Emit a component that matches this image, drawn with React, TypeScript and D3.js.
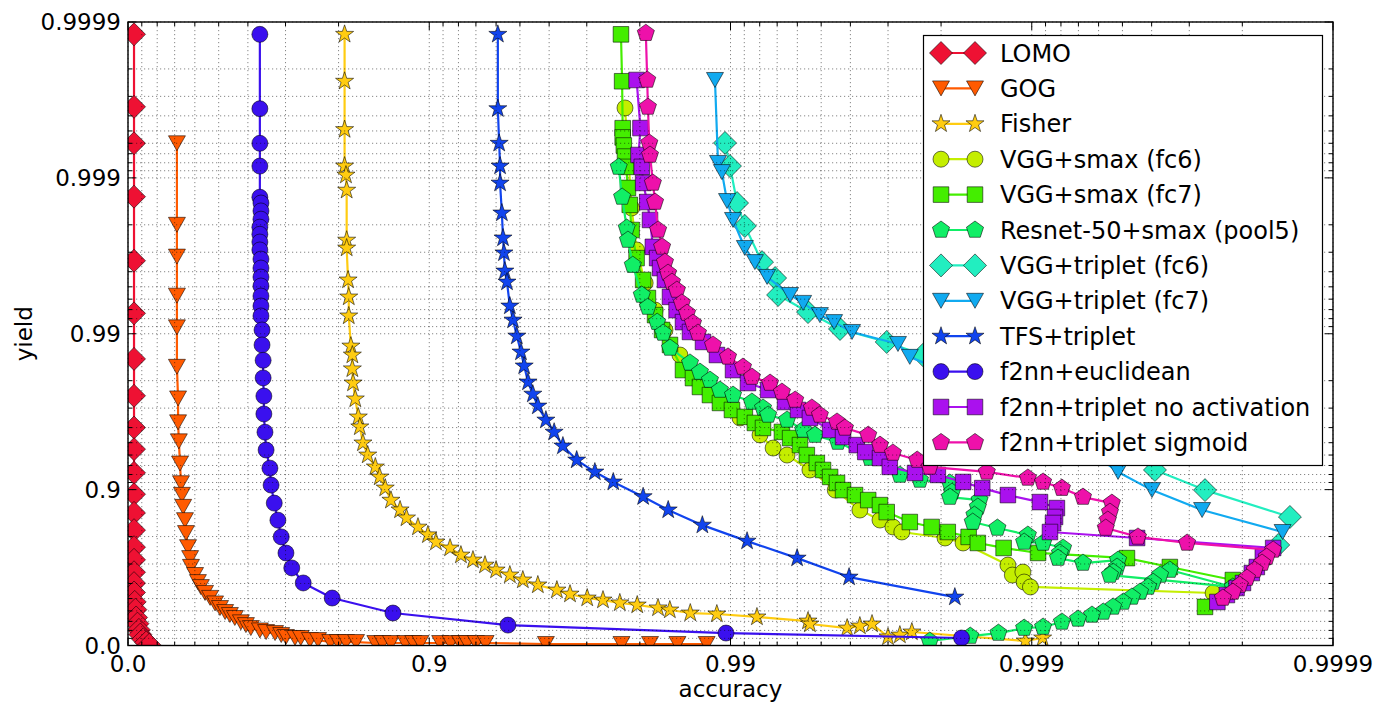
import React from "react";
import * as d3 from "d3";

// ---------- axis ticks ----------
const majorTickValues = [0.0, 0.9, 0.99, 0.999, 0.9999];
const majorTickLabels = ["0.0", "0.9", "0.99", "0.999", "0.9999"];
const decades = [0, 1, 2, 3];
const minorSteps = [1, 2, 3, 4, 5, 6, 7, 8];

// ---------- data (accuracy, yield) ----------
const seriesNames = [
  "LOMO", "GOG", "Fisher", "VGG+smax (fc6)", "VGG+smax (fc7)", "Resnet-50+smax (pool5)",
  "VGG+triplet (fc6)", "VGG+triplet (fc7)", "TFS+triplet", "f2nn+euclidean",
  "f2nn+triplet no activation", "f2nn+triplet sigmoid",
];

const lomoAccuracy = [.045, .045, .045, .045, .045, .045, .045, .045, .045, .045, .045, .045, .045, .045, .045, .045, .045, .045, .045, .05, .055, .06, .07, .08, .09, .11, .13, .15];
const lomoYield = [.99988, .99965, .9994, .99868, .9966, .9926, .9855, .975, .960, .945, .922, .893, .859, .818, .766, .718, .661, .602, .543, .475, .411, .339, .276, .206, .149, .088, .045, .01];

const gogAccuracy = [.312, .312, .312, .312, .312, .312, .318, .318, .322, .328, .333, .338, .344, .353, .358, .368, .378, .382, .401, .414, .427, .445, .466, .486, .505, .524, .541, .558, .578, .594, .609, .635, .652, .675, .690, .701, .721, .733, .751, .766, .787, .799, .811, .825, .849, .857, .866, .880, .887, .893, .908, .915, .921, .925, .930, .935, .959, .977, .9815, .985, .988];
const gogYield = [.9994, .998, .9968, .9943, .9909, .9837, .974, .963, .951, .932, .909, .892, .871, .843, .81, .766, .725, .687, .647, .608, .578, .54, .505, .463, .425, .39, .363, .334, .29, .26, .227, .2, .18, .168, .143, .118, .105, .105, .077, .077, .05, .05, .05, .05, .036, .036, .036, .036, .036, .036, .036, .036, .036, .036, .036, .036, .022, .022, .022, .022, .022];

const fisherAccuracy = [.809, .809, .809, .809, .811, .812, .812, .812, .814, .815, .815, .818, .820, .820, .821, .824, .828, .830, .834, .840, .849, .854, .860, .866, .875, .881, .891, .899, .905, .9147, .9215, .9284, .9347, .940, .946, .9511, .9564, .9623, .9659, .9701, .9735, .9767, .9796, .9826, .9841, .9864, .9889, .99183, .99447, .99455, .9959, .99628, .99661, .9970, .99726, .9975, .99895, .99908];
const fisherYield = [.99988, .99976, .99951, .99916, .99904, .9988, .99749, .99718, .99548, .99419, .99231, .988, .9863, .9832, .9793, .9738, .9658, .9604, .9498, .940, .9284, .917, .9023, .883, .865, .848, .826, .805, .783, .763, .737, .717, .695, .672, .647, .620, .591, .559, .532, .504, .489, .467, .450, .426, .408, .381, .372, .344, .303, .272, .227, .250, .272, .119, .143, .181, .064, .105];

const vggSmaxFc6Accuracy = [.9776, .9782, .9787, .9795, .9808, .9822, .9835, .98528, .98737, .98916, .9907, .99202, .99278, .99351, .99455, .99551, .99628, .99681, .99711, .9973, .99806, .99831, .9988, .99884, .99893, .99894, .99899, .99975];
const vggSmaxFc6Yield = [.999644, .999233, .99844, .9971, .99528, .99295, .99054, .98631, .98018, .97339, .96531, .95541, .9459, .94, .9252, .8993, .8648, .8433, .8264, .813, .7957, .7801, .6952, .6468, .662, .6084, .5788, .5396];

const vggSmaxFc7Accuracy = [.9769, .9771, .9772, .9772, .9774, .9776, .9778, .9781, .9784, .9787, .9795, .9805, .9812, .9822, .98313, .98412, .98562, .98668, .98737, .9883, .98916, .99011, .99104, .9917, .9922, .99325, .99366, .99412, .99442, .99483, .99507, .99533, .99557, .99577, .99614, .99651, .99681, .99697, .99746, .99785, .9981, .99838, .99849, .99876, .999047, .999517, .999652, .999785, .999734];
const vggSmaxFc7Yield = [.99988, .99976, .99952, .99945, .99938, .99927, .99915, .99884, .99851, .99784, .99673, .99548, .9941, .99241, .99054, .9882, .9829, .98075, .97805, .97527, .9722, .96917, .96584, .96266, .9598, .95736, .9533, .9482, .94, .9325, .9252, .9171, .9094, .8993, .8916, .8833, .8743, .8607, .8386, .8264, .813, .7989, .7801, .7633, .7452, .7251, .6863, .6198, .4345];

const resnetAccuracy = [.9765, .9771, .9779, .9781, .9789, .9803, .9812, .98248, .98326, .98412, .98637, .98737, .9883, .98916, .99019, .99151, .9922, .9925, .99351, .99426, .99476, .9956, .99656, .99726, .99765, .99813, .99816, .99813, .99851, .99849, .99845, .99843, .9987, .99897, .99894, .999083, .999213, .999194, .999182, .999324, .999483, .999479, .999463, .99945, .999785, .999652, .999625, .999604, .999589, .999563, .999535, .999503, .999463, .999421, .999369, .999298, .999206, .999083, .99894, .99871, .9984, .99782];
const resnetYield = [.999148, .998674, .997905, .997495, .99637, .99436, .99326, .99158, .99011, .98766, .98462, .98239, .98018, .97704, .97527, .97259, .97007, .96681, .96427, .9586, .95532, .95046, .93727, .91945, .9133, .9094, .8963, .8884, .8833, .8707, .8544, .8386, .8237, .8045, .7833, .7801, .7633, .7452, .7251, .7042, .7169, .6863, .662, .6468, .5788, .6719, .6468, .6084, .5788, .5462, .512, .4742, .4345, .3906, .3628, .3248, .2939, .239, .227, .168, .13, .064];

const vggTripletFc6Accuracy = [.98957, .98996, .99049, .99104, .99214, .99289, .99305, .99447, .99567, .99697, .9977, .9984, .99891, .999253, .999471, .99961, .999734, .999861, .999848];
const vggTripletFc6Yield = [.999403, .99916, .99855, .997965, .99653, .99561, .99436, .99274, .99068, .98871, .98631, .98239, .97635, .96531, .9482, .9252, .8993, .8502, .7735];

const vggTripletFc7Accuracy = [.98874, .989, .98932, .98973, .99019, .99104, .9917, .99244, .99366, .99426, .99495, .99547, .99605, .99722, .99746, .99827, .99882, .999194, .999383, .999483, .999601, .999728, .999853];
const vggTripletFc7Yield = [.9997645, .999198, .999082, .998592, .998138, .997184, .99653, .99568, .99436, .99366, .99241, .99158, .99026, .98837, .98593, .98075, .97339, .9586, .94, .923, .8993, .8648, .813];

const tfsAccuracy = [.9408, .9408, .9414, .9418, .9418, .9426, .9431, .9435, .9439, .9448, .946, .9473, .9488, .9504, .9516, .953, .9547, .9564, .959, .9615, .964, .9676, .9718, .9755, .9805, .9839, .9876, .99119, .99399, .99596, .9982];
const tfsYield = [.99988, .99964, .9994, .99916, .99892, .99832, .99757, .99697, .99604, .99534, .99336, .99183, .98965, .9869, .9839, .9796, .9756, .9709, .9642, .9572, .9475, .9354, .9229, .9107, .889, .865, .831, .786, .725, .636, .511];

const euclideanAccuracy = [.635, .635, .635, .635, .635, .638, .638, .638, .635, .635, .635, .635, .638, .638, .638, .638, .638, .638, .638, .641, .641, .644, .644, .646, .646, .649, .652, .662, .665, .673, .682, .690, .701, .714, .738, .790, .868, .9452, .98965, .99829];
const euclideanYield = [.99988, .99964, .9994, .99916, .99867, .99855, .99837, .99816, .99793, .9977, .99742, .9971, .99668, .99621, .99567, .99506, .99427, .99336, .99231, .99054, .9882, .9852, .9808, .9749, .9673, .9572, .9443, .9272, .9065, .878, .843, .799, .745, .682, .603, .504, .381, .26, .168, .105];

const noActAccuracy = [.9795, .9801, .9798, .9803, .9805, .9811, .9815, .9819, .98248, .98287, .9835, .98412, .9849, .98562, .98637, .98766, .98891, .99019, .99125, .9925, .99341, .99403, .99455, .99533, .99577, .99619, .99643, .99681, .99704, .99756, .99795, .99831, .99854, .9988, .999061, .999175, .999163, .99915, .99913, .999553, .999842, .999829, .999821, .999814, .999801, .999791, .999775, .999758];
const noActYield = [.9997645, .999521, .999287, .99915, .998922, .998571, .998138, .99723, .99673, .99621, .99548, .9942, .99295, .99158, .99026, .98871, .98631, .9829, .97929, .97704, .97259, .96917, .96531, .9586, .954, .9482, .94263, .93727, .9285, .9218, .9195, .9107, .9022, .8916, .8798, .8687, .8502, .8363, .813, .7957, .7633, .7294, .6863, .6571, .6027, .5722, .5255, .4742];

const sigmoidAccuracy = [.9809, .9811, .9812, .9814, .9815, .9819, .9822, .98261, .98313, .9835, .98388, .98436, .98494, .9855, .98606, .98668, .98718, .98857, .98981, .99091, .99151, .99261, .99325, .9939, .99463, .99495, .99557, .99583, .99651, .99681, .99711, .9976, .99782, .99859, .99897, .999083, .999206, .999324, .999458, .99945, .999441, .999432, .999556, .999695, .999842, .999834, .999828, .999818, .999807, .999796, .999785, .999768];
const sigmoidYield = [.999882, .9997645, .999649, .999403, .999287, .998922, .998571, .997842, .99723, .99653, .99592, .99534, .99476, .99366, .99263, .99146, .99011, .9882, .98593, .98365, .98105, .97929, .97635, .97339, .97007, .96681, .9632, .9598, .95532, .9482, .9418, .9354, .9285, .923, .9158, .9107, .9022, .8884, .878, .8607, .8433, .8237, .7989, .7801, .7562, .7294, .7042, .6719, .6308, .5907, .5462, .5043];

// ---------- styling ----------
type Marker = "diamond" | "triDown" | "star" | "circle" | "square" | "pentagon";

const seriesColors = ["#ee1133", "#ff5a00", "#ffcc11", "#c4ee00", "#44ee00", "#11ee66", "#22eec0", "#11aaf0", "#1144ee", "#3a10ee", "#aa11ee", "#ee11aa"];
const seriesMarkers: Marker[] = ["diamond", "triDown", "star", "circle", "square", "pentagon", "diamond", "triDown", "star", "circle", "square", "pentagon"];
const seriesAccuracy = [lomoAccuracy, gogAccuracy, fisherAccuracy, vggSmaxFc6Accuracy, vggSmaxFc7Accuracy, resnetAccuracy, vggTripletFc6Accuracy, vggTripletFc7Accuracy, tfsAccuracy, euclideanAccuracy, noActAccuracy, sigmoidAccuracy];
const seriesYield = [lomoYield, gogYield, fisherYield, vggSmaxFc6Yield, vggSmaxFc7Yield, resnetYield, vggTripletFc6Yield, vggTripletFc7Yield, tfsYield, euclideanYield, noActYield, sigmoidYield];

const W = 1379;
const H = 709;
const L = 128, R = 1333, T = 22, B = 645.5;
const FONT = "DejaVu Sans, Verdana, sans-serif";

// scales on the error (1 - value), logarithmic
const xScale = d3.scaleLog().domain([1, 1e-4]).range([L, R]);
const yScale = d3.scaleLog().domain([1, 1e-4]).range([B, T]);
const px = (p: number) => xScale(Math.max(1e-6, 1 - p));
const py = (p: number) => yScale(Math.max(1e-6, 1 - p));

function polygon(n: number, r: number, rot: number) {
  const pts: string[] = [];
  for (let i = 0; i < n; i++) {
    const a = rot + (i * 2 * Math.PI) / n;
    pts.push(`${(r * Math.cos(a)).toFixed(2)},${(r * Math.sin(a)).toFixed(2)}`);
  }
  return "M" + pts.join("L") + "Z";
}
function starPath(R0: number, r0: number) {
  const pts: string[] = [];
  for (let i = 0; i < 10; i++) {
    const a = -Math.PI / 2 + (i * Math.PI) / 5;
    const rr = i % 2 === 0 ? R0 : r0;
    pts.push(`${(rr * Math.cos(a)).toFixed(2)},${(rr * Math.sin(a)).toFixed(2)}`);
  }
  return "M" + pts.join("L") + "Z";
}
const markerPaths: Record<Marker, string> = {
  diamond: "M0,-11.5L11.5,0L0,11.5L-11.5,0Z",
  triDown: "M-8.5,-7.5L8.5,-7.5L0,7.5Z",
  star: starPath(9.5, 3.7),
  circle: "M8,0A8,8 0 1,1 -8,0A8,8 0 1,1 8,0Z",
  square: "M-7.8,-7.8h15.6v15.6h-15.6Z",
  pentagon: polygon(5, 9, -Math.PI / 2),
};

function MarkerShape({ x, y, m, color }: { x: number; y: number; m: Marker; color: string }) {
  return (
    <path
      d={markerPaths[m]}
      transform={`translate(${x},${y})`}
      fill={color}
      stroke="#000"
      strokeOpacity={0.55}
      strokeWidth={1}
    />
  );
}

export default function App() {
  const minorValues: number[] = [];
  decades.forEach((k) => minorSteps.forEach((m) => minorValues.push(1 - Math.pow(10, -k) * (1 - m / 10))));
  const gridValues = [...majorTickValues, ...minorValues];

  const line = d3
    .line<[number, number]>()
    .x((d) => px(d[0]))
    .y((d) => py(d[1]));

  const legendTop = 53;
  const legendStep = 35.4;

  return (
    <svg
      width={W}
      height={H}
      viewBox={`0 0 ${W} ${H}`}
      style={{ position: "absolute", left: 0, top: 0, background: "#fff" }}
      fontFamily={FONT}
    >
      <defs>
        <clipPath id="plotClip">
          <rect x={L} y={T} width={R - L} height={B - T} />
        </clipPath>
      </defs>
      <rect x={0} y={0} width={W} height={H} fill="#fff" />

      {/* data */}
      <g clipPath="url(#plotClip)">
        {seriesNames.map((name, i) => {
          const pts: [number, number][] = seriesAccuracy[i].map((a, j) => [a, seriesYield[i][j]]);
          return (
            <g key={name}>
              <path d={line(pts) || ""} fill="none" stroke={seriesColors[i]} strokeWidth={2.2} strokeLinejoin="round" />
              {pts.map((p, j) => (
                <MarkerShape key={j} x={px(p[0])} y={py(p[1])} m={seriesMarkers[i]} color={seriesColors[i]} />
              ))}
            </g>
          );
        })}
      </g>

      {/* grid (drawn above data, dotted) */}
      <g stroke="#000" strokeWidth={0.8} strokeDasharray="1.2,2.8" strokeOpacity={0.6}>
        {gridValues.map((v, i) => (
          <line key={"gx" + i} x1={px(v)} x2={px(v)} y1={T} y2={B} />
        ))}
        {gridValues.map((v, i) => (
          <line key={"gy" + i} x1={L} x2={R} y1={py(v)} y2={py(v)} />
        ))}
      </g>

      {/* ticks */}
      <g stroke="#000" strokeWidth={1}>
        {majorTickValues.map((v, i) => (
          <g key={"mt" + i}>
            <line x1={px(v)} x2={px(v)} y1={B} y2={B - 8} />
            <line x1={px(v)} x2={px(v)} y1={T} y2={T + 8} />
            <line x1={L} x2={L + 8} y1={py(v)} y2={py(v)} />
            <line x1={R} x2={R - 8} y1={py(v)} y2={py(v)} />
          </g>
        ))}
        {minorValues.map((v, i) => (
          <g key={"nt" + i}>
            <line x1={px(v)} x2={px(v)} y1={B} y2={B - 4} />
            <line x1={px(v)} x2={px(v)} y1={T} y2={T + 4} />
            <line x1={L} x2={L + 4} y1={py(v)} y2={py(v)} />
            <line x1={R} x2={R - 4} y1={py(v)} y2={py(v)} />
          </g>
        ))}
      </g>

      {/* frame */}
      <rect x={L} y={T} width={R - L} height={B - T} fill="none" stroke="#000" strokeWidth={1.4} />

      {/* tick labels */}
      <g fontSize={23} fill="#000">
        {majorTickValues.map((v, i) => (
          <text key={"xl" + i} x={px(v)} y={672} textAnchor="middle">
            {majorTickLabels[i]}
          </text>
        ))}
        {majorTickValues.map((v, i) => (
          <text key={"yl" + i} x={121} y={py(v) + 8.3} textAnchor="end">
            {majorTickLabels[i]}
          </text>
        ))}
      </g>

      {/* axis titles */}
      <text x={(L + R) / 2} y={697} textAnchor="middle" fontSize={23}>
        accuracy
      </text>
      <text transform={`translate(32,${(T + B) / 2}) rotate(-90)`} textAnchor="middle" fontSize={23}>
        yield
      </text>

      {/* legend */}
      <g>
        <rect x={923.5} y={35.5} width={399} height={430} fill="#fff" stroke="#000" strokeWidth={1.2} />
        {seriesNames.map((name, i) => {
          const cy = legendTop + i * legendStep;
          return (
            <g key={"lg" + i}>
              <line x1={941} x2={975} y1={cy} y2={cy} stroke={seriesColors[i]} strokeWidth={2.2} />
              <MarkerShape x={941} y={cy} m={seriesMarkers[i]} color={seriesColors[i]} />
              <MarkerShape x={975} y={cy} m={seriesMarkers[i]} color={seriesColors[i]} />
              <text x={1000} y={cy + 8.5} fontSize={24} fill="#000">
                {name}
              </text>
            </g>
          );
        })}
      </g>
    </svg>
  );
}
